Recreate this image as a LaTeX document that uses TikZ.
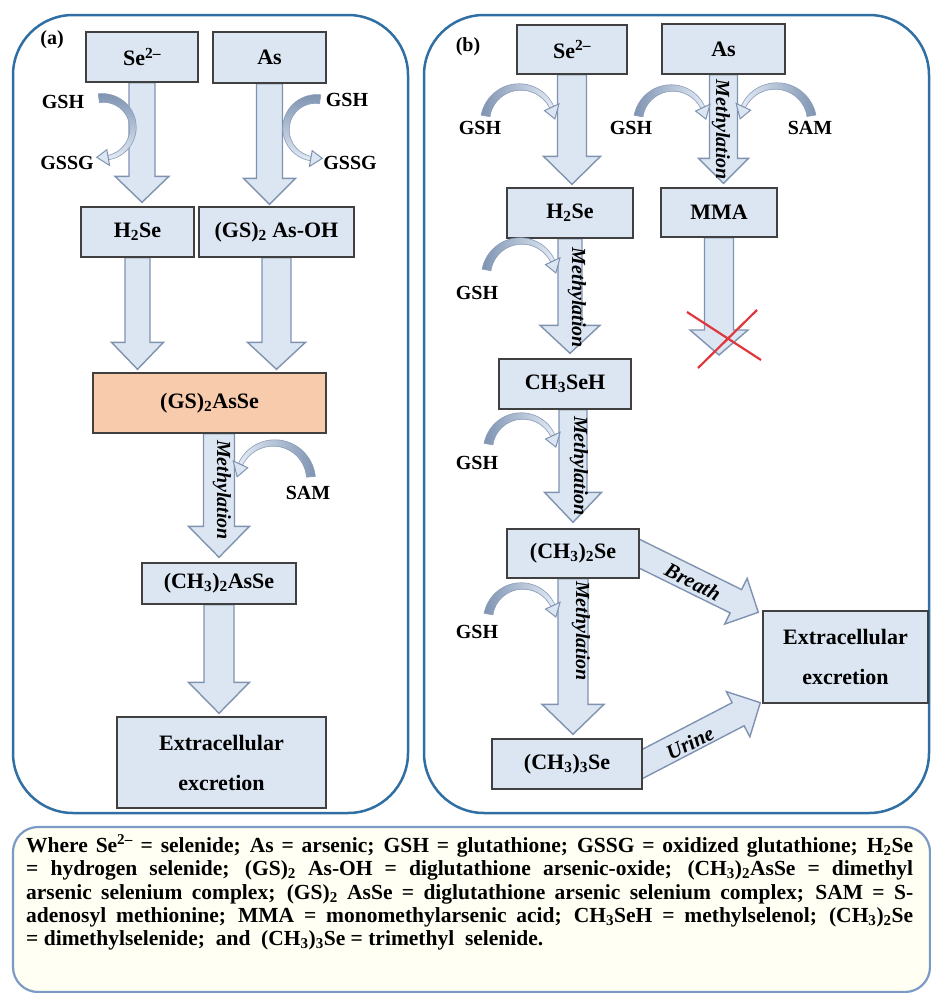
\documentclass[tikz,border=0pt]{standalone}
\usepackage{fontspec}
\setmainfont{Liberation Serif}
\usetikzlibrary{calc}

\pgfdeclarelayer{panels}
\pgfdeclarelayer{flows}
\pgfsetlayers{panels,flows,main}

\definecolor{boxfill}{HTML}{DCE6F2}
\definecolor{boxline}{HTML}{404040}
\definecolor{peach}{HTML}{F8CBAD}
\definecolor{arrowfill}{HTML}{DCE6F2}
\definecolor{arrowline}{HTML}{7F93B0}
\definecolor{panelline}{HTML}{2F6FA3}
\definecolor{notefill}{HTML}{FFFFF3}
\definecolor{noteline}{HTML}{7B9AC6}
\definecolor{curvedark}{HTML}{7F94B2}
\definecolor{curvelight}{HTML}{E3EBF5}
\definecolor{curveedge}{HTML}{8A9CB8}
\definecolor{crossred}{HTML}{E0373D}

\tikzset{
  wh/.style 2 args={minimum width=#1pt, minimum height=#2pt},
  chem/.style={draw=boxline, line width=1.4pt, fill=boxfill, inner sep=0pt,
    font=\fontsize{22}{40}\selectfont\bfseries, align=center},
  blockarr/.style={draw=arrowline, fill=arrowfill, line width=1.4pt, line join=miter},
  tag/.style={font=\fontsize{20}{22}\selectfont\bfseries, inner sep=0pt},
  methyl/.style={font=\fontsize{20}{20}\selectfont\bfseries\itshape, inner sep=0pt, rotate=-90},
  route/.style={font=\fontsize{21}{21}\selectfont\bfseries\itshape, inner sep=0pt},
  panel/.style={draw=panelline, line width=2.5pt, rounded corners=60pt},
  note/.style={font=\fontsize{21.5}{23}\selectfont\bfseries, inner sep=0pt, anchor=base west},
  curvehead/.style={fill=arrowfill, draw=arrowline, line width=1pt, line join=miter},
}

% broad block arrow: from, to, shaft half width, head half width, head length
\newcommand\blockarrow[5]{%
  \draw[blockarr] ($(#1)!#3!90:(#2)$)
    -- ($($(#2)!#5!(#1)$)!#3!90:(#2)$)
    -- ($($(#2)!#5!(#1)$)!#4!90:(#2)$)
    -- (#2)
    -- ($($(#2)!#5!(#1)$)!#4!-90:(#2)$)
    -- ($($(#2)!#5!(#1)$)!#3!-90:(#2)$)
    -- ($(#1)!#3!-90:(#2)$) -- cycle;}

% tapered curved arrow: shading, cx, cy, radius, tail angle, head angle, head sweep
\newcommand\curvarrow[7]{%
  \shade[#1, draw=curveedge, line width=0.6pt]
    plot[domain=#5:#6, samples=30, variable=\t]
      ({#2+(#4+4.5-2.3*(\t-#5)/(#6-#5))*cos(\t)}, {#3+(#4+4.5-2.3*(\t-#5)/(#6-#5))*sin(\t)})
    -- plot[domain=#6:#5, samples=30, variable=\t]
      ({#2+(#4-4.5+2.3*(\t-#5)/(#6-#5))*cos(\t)}, {#3+(#4-4.5+2.3*(\t-#5)/(#6-#5))*sin(\t)})
    -- cycle;
  \draw[curvehead] ({#2+(#4+8)*cos(#6)}, {#3+(#4+8)*sin(#6)})
    -- ({#2+#4*cos(#6+(#7))}, {#3+#4*sin(#6+(#7))})
    -- ({#2+(#4-8)*cos(#6)}, {#3+(#4-8)*sin(#6)}) -- cycle;}

\begin{document}
\begin{tikzpicture}[x=1pt,y=-1pt]
\useasboundingbox (0,0) rectangle (931,993);

% frames
\begin{pgfonlayer}{panels}
  \draw[panel] (13,15) rectangle (408,813);
  \draw[panel] (424,15) rectangle (929,813);
  \draw[draw=noteline, line width=2.2pt, fill=notefill, rounded corners=25pt] (13,827) rectangle (930,992);
\end{pgfonlayer}

% ---- panel (a) ----
\node[chem, wh={112}{50}] (sea) at (142,57) {Se\textsuperscript{2–}};
\node[chem, wh={113}{51}] (asa) at (269.5,57.5) {As};
\node[chem, wh={113}{50}] (h2sea) at (137.5,232) {H\textsubscript{2}Se};
\node[chem, wh={155}{50}] (gsasoh) at (276.5,232) {(GS)\textsubscript{2} As-OH};
\node[chem, fill=peach, wh={233}{60}] (gsasse) at (209.5,403) {(GS)\textsubscript{2}AsSe};
\node[chem, wh={154}{41}] (ch3asse) at (219,583.5) {(CH\textsubscript{3})\textsubscript{2}AsSe};
\node[chem, wh={209}{91}] (exa) at (221.5,762.5) {Extracellular\\excretion};

% ---- panel (b) ----
\node[chem, wh={110}{49}] (seb) at (572,49.5) {Se\textsuperscript{2–}};
\node[chem, wh={123}{50}] (asb) at (723.5,49) {As};
\node[chem, wh={126}{50}] (h2seb) at (570,213) {H\textsubscript{2}Se};
\node[chem, wh={116}{49}] (mma) at (719,212.5) {MMA};
\node[chem, wh={132}{50}] (ch3seh) at (565,384) {CH\textsubscript{3}SeH};
\node[chem, wh={132}{49}] (dse) at (573,553.5) {(CH\textsubscript{3})\textsubscript{2}Se};
\node[chem, wh={150}{50}] (tse) at (567,764) {(CH\textsubscript{3})\textsubscript{3}Se};
\node[chem, wh={165}{92}] (exb) at (845.5,657) {Extracellular\\excretion};
\coordinate (mmastop) at (722.5,355);

% block arrows
\begin{pgfonlayer}{flows}
  \blockarrow{sea.south}{$(sea.south |- h2sea.north)+(0,-4)$}{13pt}{27pt}{26pt}
  \blockarrow{asa.south}{$(asa.south |- gsasoh.north)+(0,-2)$}{13pt}{26pt}{26pt}
  \blockarrow{h2sea.south}{$(h2sea.south |- gsasse.north)+(0,-3)$}{12.5pt}{26pt}{27pt}
  \blockarrow{gsasoh.south}{$(gsasoh.south |- gsasse.north)+(0,-3)$}{14.5pt}{29pt}{27pt}
  \blockarrow{ch3asse.north |- gsasse.south}{$(ch3asse.north)+(0,-5)$}{15.5pt}{30.5pt}{31pt}
  \blockarrow{ch3asse.south}{$(ch3asse.south |- exa.north)+(0,-3)$}{15pt}{30.5pt}{31pt}

  \blockarrow{seb.south}{$(seb.south |- h2seb.north)+(0,-3)$}{14.5pt}{28.5pt}{28pt}
  \blockarrow{asb.south}{$(asb.south |- mma.north)+(0,-4)$}{14pt}{25pt}{25pt}
  \blockarrow{h2seb.south}{$(h2seb.south |- ch3seh.north)+(0,-5)$}{12pt}{30pt}{28pt}
  \blockarrow{mma.south}{mma.south |- mmastop}{14.5pt}{29pt}{25pt}
  \blockarrow{dse.north |- ch3seh.south}{$(dse.north)+(0,-6)$}{14pt}{28.5pt}{30pt}
  \blockarrow{dse.south}{$(dse.south |- tse.north)+(0,-4)$}{15pt}{31pt}{30pt}
  \blockarrow{$(dse.east)!-14pt!(exb.north west)$}{$(exb.north west)+(-4,2)$}{13pt}{25.5pt}{25pt}
  \blockarrow{$(tse.east)!-14pt!(exb.south west)$}{$(exb.south west)+(-2,-1)$}{13pt}{25.5pt}{25pt}
\end{pgfonlayer}

% cofactor arrows
\curvarrow{top color=curvedark, bottom color=curvelight}{103}{128}{30}{262}{440}{22}
\curvarrow{top color=curvedark, bottom color=curvelight}{316}{129}{30}{278}{100}{-22}
\curvarrow{left color=curvelight, right color=curvedark}{274}{480}{37}{355}{205}{-20}
\curvarrow{left color=curvedark, right color=curvelight}{520}{122}{35}{190}{335}{20}
\curvarrow{left color=curvedark, right color=curvelight}{672}{122}{34}{190}{335}{20}
\curvarrow{left color=curvelight, right color=curvedark}{776}{122}{36}{350}{205}{-20}
\curvarrow{left color=curvedark, right color=curvelight}{521}{276}{35}{190}{335}{20}
\curvarrow{left color=curvedark, right color=curvelight}{522}{450}{34}{190}{335}{20}
\curvarrow{left color=curvedark, right color=curvelight}{522}{620}{34}{190}{335}{20}

% blocked MMA step
\draw[crossred, line width=2.2pt] (687,312) -- (761,360);
\draw[crossred, line width=2.2pt] (757,310) -- (698,368);

% labels
\node[tag] (pa) at (52,40) {(a)};
\node[tag] (pb) at (468,47) {(b)};
\node[tag] (gsh1) at (63,102) {GSH};
\node[tag] (gssg1) at (67,163) {GSSG};
\node[tag] (gsh2) at (347,100) {GSH};
\node[tag] (gssg2) at (350,163) {GSSG};
\node[tag] (sam1) at (308,493) {SAM};
\node[tag] (gsh3) at (480,128) {GSH};
\node[tag] (gsh4) at (631,128) {GSH};
\node[tag] (sam2) at (810,128) {SAM};
\node[tag] (gsh5) at (477,293) {GSH};
\node[tag] (gsh6) at (477,463) {GSH};
\node[tag] (gsh7) at (477,632) {GSH};

\node[methyl] (me1) at (222,490) {Methylation};
\node[methyl] (me2) at (721,130) {Methylation};
\node[methyl] (me3) at (577,298) {Methylation};
\node[methyl] (me4) at (579,466) {Methylation};
\node[methyl] (me5) at (581,631) {Methylation};
\node[route, rotate=-27] (breath) at (693,582) {Breath};
\node[route, rotate=27] (urine) at (690,743) {Urine};

% abbreviations
\node[note] (l1) at (26,852.5) {\makebox[887pt][s]{Where Se\textsuperscript{2–} = selenide; As = arsenic; GSH = glutathione; GSSG = oxidized glutathione; H\textsubscript{2}Se}};
\node[note] (l2) at (26,875.8) {\makebox[887pt][s]{= hydrogen selenide; (GS)\textsubscript{2} As-OH = diglutathione arsenic-oxide; (CH\textsubscript{3})\textsubscript{2}AsSe = dimethyl}};
\node[note] (l3) at (26,899.1) {\makebox[887pt][s]{arsenic selenium complex; (GS)\textsubscript{2} AsSe = diglutathione arsenic selenium complex; SAM = S-}};
\node[note] (l4) at (26,922.4) {\makebox[887pt][s]{adenosyl methionine; MMA = monomethylarsenic acid; CH\textsubscript{3}SeH = methylselenol; (CH\textsubscript{3})\textsubscript{2}Se}};
\node[note] (l5) at (26,945.7) {= dimethylselenide;\ \ and\ \ (CH\textsubscript{3})\textsubscript{3}Se = trimethyl\ \ selenide.};
\end{tikzpicture}
\end{document}
